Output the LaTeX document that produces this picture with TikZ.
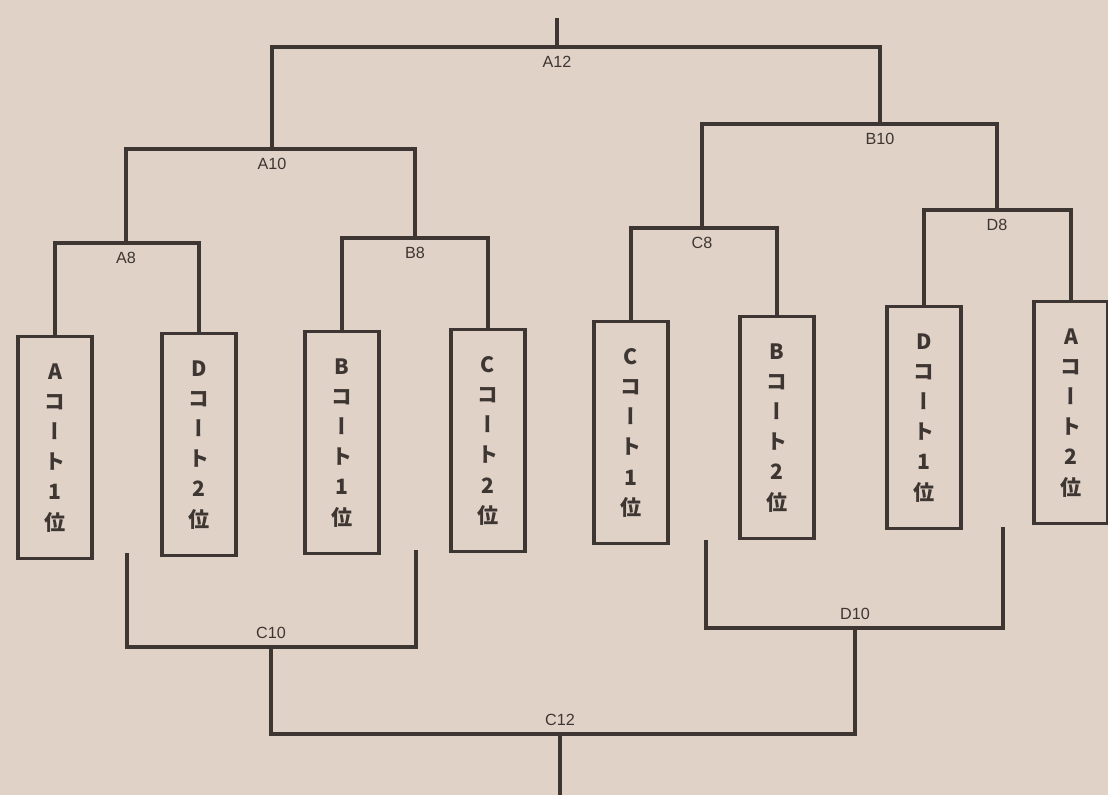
\documentclass[tikz,border=0pt]{standalone}
\usepackage{fontspec}
\newfontfamily\cjk[RawFeature=+vert]{Noto Sans CJK JP}
\newfontfamily\labfont{Liberation Sans}
\definecolor{paper}{RGB}{224,210,199}
\definecolor{ink}{RGB}{62,54,50}

\begin{document}
\begin{tikzpicture}[x=0.025cm,y=-0.025cm,
  court node/.style={rectangle,draw=ink,line width=2.4pt,minimum width=1.85cm,minimum height=5.55cm,inner sep=0pt,anchor=north,align=center,font=\cjk\bfseries\fontsize{15}{21.5}\selectfont,text=ink},
  round label/.style={font=\labfont\fontsize{11.5}{12}\selectfont,text=ink,inner sep=1pt},
  bracket/.style={draw=ink,line width=2.4pt}]
  \useasboundingbox (0,0) rectangle (1108,795);
  \fill[paper] (0,0) rectangle (1108,795);

  % courts
  \node[court node] (a1) at (55,335) {A\\コ\\ー\\ト\\1\\位};
  \node[court node] (d2) at (199,332) {D\\コ\\ー\\ト\\2\\位};
  \node[court node] (b1) at (342,330) {B\\コ\\ー\\ト\\1\\位};
  \node[court node] (c2) at (488,328) {C\\コ\\ー\\ト\\2\\位};
  \node[court node] (c1) at (631,320) {C\\コ\\ー\\ト\\1\\位};
  \node[court node] (b2) at (777,315) {B\\コ\\ー\\ト\\2\\位};
  \node[court node] (d1) at (924,305) {D\\コ\\ー\\ト\\1\\位};
  \node[court node] (a2) at (1071,300) {A\\コ\\ー\\ト\\2\\位};

  % upper bracket
  \coordinate (A8) at (126,243);
  \coordinate (B8) at (415,238);
  \coordinate (C8) at (702,228);
  \coordinate (D8) at (997,210);
  \coordinate (A10) at (272,149);
  \coordinate (B10) at (880,124);
  \coordinate (A12) at (557,47);
  \coordinate (top) at (557,18);

  \draw[bracket] (a1.north) |- (A8) -| (d2.north);
  \draw[bracket] (b1.north) |- (B8) -| (c2.north);
  \draw[bracket] (c1.north) |- (C8) -| (b2.north);
  \draw[bracket] (d1.north) |- (D8) -| (a2.north);
  \draw[bracket] (A8) |- (A10) -| (B8);
  \draw[bracket] (C8) |- (B10) -| (D8);
  \draw[bracket] (A10) |- (A12) -| (B10);
  \draw[bracket] (A12) -- (top);

  \node[round label,below=5pt] (lA8) at (A8) {A8};
  \node[round label,below=5pt] (lB8) at (B8) {B8};
  \node[round label,below=5pt] (lC8) at (C8) {C8};
  \node[round label,below=5pt] (lD8) at (D8) {D8};
  \node[round label,below=5pt] (lA10) at (A10) {A10};
  \node[round label,below=5pt] (lB10) at (B10) {B10};
  \node[round label,below=5pt] (lA12) at (A12) {A12};

  % lower bracket
  \coordinate (c10l) at (127,553);
  \coordinate (c10r) at (416,550);
  \coordinate (d10l) at (706,540);
  \coordinate (d10r) at (1003,527);
  \coordinate (C10) at (271,647);
  \coordinate (D10) at (855,628);
  \coordinate (C12) at (560,734);
  \coordinate (bottom) at (560,795);

  \draw[bracket] (c10l) |- (C10) -| (c10r);
  \draw[bracket] (d10l) |- (D10) -| (d10r);
  \draw[bracket] (C10) |- (C12) -| (D10);
  \draw[bracket] (C12) -- (bottom);

  \node[round label,above=5pt] (lC10) at (C10) {C10};
  \node[round label,above=5pt] (lD10) at (D10) {D10};
  \node[round label,above=5pt] (lC12) at (C12) {C12};
\end{tikzpicture}
\end{document}
